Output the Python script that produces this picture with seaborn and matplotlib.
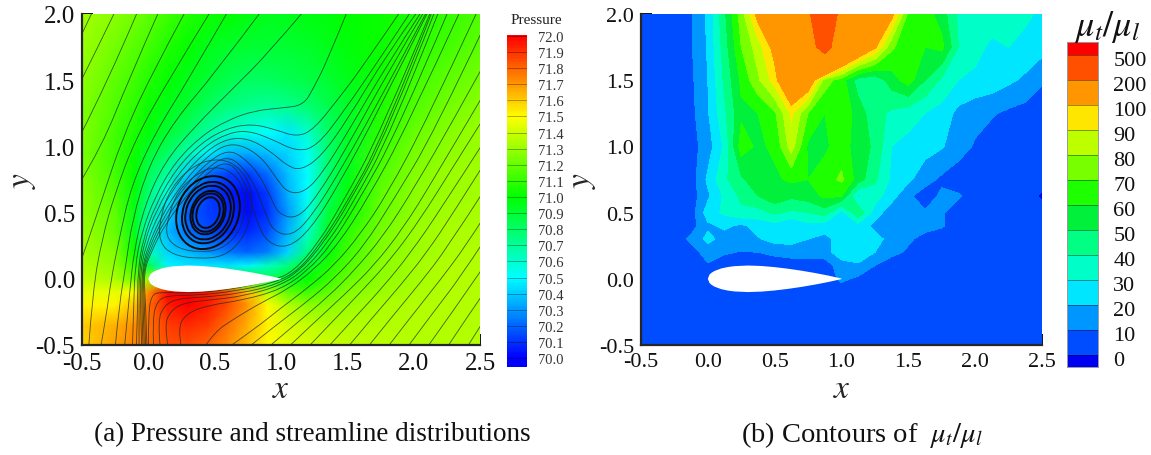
import numpy as np
import matplotlib
matplotlib.use('Agg')
import matplotlib.pyplot as plt
from matplotlib.colors import ListedColormap, BoundaryNorm
from matplotlib.path import Path
from matplotlib.patches import PathPatch
import seaborn as sns

# --- Pressure field ---
p_x = [-0.5, -0.25, -0.1, 0, 0.15, 0.3, 0.45, 0.6, 0.75, 0.9, 1.05, 1.2, 1.35, 1.5, 1.75, 2, 2.25, 2.5]
p_y = [-0.5, -0.35, -0.2, -0.1, 0, 0.1, 0.2, 0.35, 0.5, 0.65, 0.8, 0.95, 1.1, 1.3, 1.5, 1.75, 2.0]
pressure = [
    [71.58, 71.68, 71.74, 71.78, 71.84, 71.85, 71.80, 71.72, 71.62, 71.50, 71.45, 71.42, 71.40, 71.38, 71.36, 71.35, 71.35, 71.35],
    [71.60, 71.65, 71.72, 71.78, 71.88, 71.92, 71.88, 71.78, 71.65, 71.52, 71.42, 71.38, 71.35, 71.35, 71.35, 71.35, 71.35, 71.35],
    [71.52, 71.52, 71.62, 71.78, 71.95, 72.00, 71.95, 71.85, 71.70, 71.50, 71.35, 71.27, 71.27, 71.30, 71.33, 71.35, 71.35, 71.35],
    [71.45, 71.45, 71.50, 71.72, 72.00, 72.00, 71.95, 71.85, 71.62, 71.35, 71.18, 71.12, 71.18, 71.25, 71.30, 71.33, 71.35, 71.35],
    [71.38, 71.33, 71.20, 71.30, 71.20, 71.20, 71.15, 71.05, 70.95, 70.85, 70.92, 71.00, 71.10, 71.20, 71.28, 71.32, 71.35, 71.35],
    [71.35, 71.28, 71.10, 70.85, 70.48, 70.45, 70.45, 70.45, 70.48, 70.62, 70.75, 70.92, 71.05, 71.15, 71.27, 71.32, 71.35, 71.35],
    [71.32, 71.25, 71.00, 70.65, 70.42, 70.36, 70.30, 70.24, 70.20, 70.25, 70.42, 70.75, 70.98, 71.12, 71.25, 71.30, 71.33, 71.35],
    [71.30, 71.20, 70.95, 70.60, 70.36, 70.22, 70.15, 70.10, 70.08, 70.15, 70.35, 70.60, 70.93, 71.08, 71.23, 71.30, 71.33, 71.33],
    [71.28, 71.18, 70.95, 70.70, 70.42, 70.18, 70.12, 70.10, 70.02, 70.10, 70.30, 70.55, 70.88, 71.03, 71.20, 71.28, 71.32, 71.33],
    [71.27, 71.15, 70.98, 70.78, 70.55, 70.25, 70.12, 70.06, 70.02, 70.12, 70.35, 70.50, 70.82, 70.98, 71.18, 71.27, 71.30, 71.32],
    [71.25, 71.13, 71.00, 70.85, 70.68, 70.42, 70.22, 70.14, 70.12, 70.22, 70.38, 70.50, 70.78, 70.95, 71.15, 71.25, 71.30, 71.32],
    [71.24, 71.12, 71.02, 70.90, 70.80, 70.65, 70.48, 70.36, 70.34, 70.38, 70.42, 70.52, 70.78, 70.93, 71.12, 71.23, 71.28, 71.30],
    [71.25, 71.13, 71.05, 70.98, 70.90, 70.80, 70.68, 70.60, 70.55, 70.50, 70.46, 70.60, 70.80, 70.92, 71.08, 71.20, 71.26, 71.30],
    [71.25, 71.15, 71.08, 71.02, 70.95, 70.90, 70.82, 70.76, 70.72, 70.70, 70.72, 70.78, 70.85, 70.92, 71.05, 71.15, 71.22, 71.27],
    [71.28, 71.18, 71.12, 71.07, 71.00, 70.95, 70.90, 70.85, 70.82, 70.82, 70.84, 70.86, 70.90, 70.95, 71.03, 71.12, 71.18, 71.23],
    [71.30, 71.22, 71.17, 71.13, 71.06, 71.00, 70.95, 70.92, 70.90, 70.90, 70.90, 70.92, 70.95, 70.98, 71.02, 71.08, 71.13, 71.18],
    [71.32, 71.27, 71.22, 71.18, 71.12, 71.07, 71.03, 71.00, 70.97, 70.95, 70.95, 70.97, 70.98, 71.00, 71.02, 71.05, 71.10, 71.15],
]

# --- Viscosity ratio ---
mu_x = [-0.5, -0.375, -0.25, -0.125, 0, 0.125, 0.25, 0.375, 0.5, 0.625, 0.75, 0.875, 1, 1.125, 1.25,
        1.375, 1.5, 1.625, 1.75, 1.875, 2, 2.125, 2.25, 2.375, 2.5]
mu_y = [-0.5, -0.1, 0, 0.1, 0.2, 0.3, 0.4, 0.5, 0.625, 0.75, 1.0, 1.25, 1.5, 1.75, 2.0]
mu_ratio = [
    [5] * 25,
    [5] * 25,
    [5, 5, 5, 5, 5, 5, 5, 5, 5, 5, 5, 5, 12, 8, 5, 5, 5, 5, 5, 5, 5, 5, 5, 5, 5],
    [5, 5, 5, 5, 9, 5, 5, 5, 5, 5, 5, 6, 14, 18, 10, 6, 5, 5, 5, 5, 5, 5, 5, 5, 5],
    [5, 5, 5, 6, 14, 11, 9.5, 10, 12, 14, 14, 14, 28, 28, 20, 12, 9, 6, 5, 5, 5, 5, 5, 5, 5],
    [5, 5, 5, 12, 23, 16, 15, 19, 24, 24, 20, 17, 24, 29, 24, 16, 11, 8, 5, 5, 5, 5, 5, 5, 5],
    [5, 5, 5, 6, 18, 22, 18, 24, 26, 20, 27, 25, 27, 26, 17, 14, 11, 12, 11, 5, 5, 5, 5, 5, 5],
    [5, 5, 5, 5, 25, 32, 38, 36, 42, 38, 40, 45, 27, 48, 25, 14, 12, 11, 11, 5, 5, 5, 5, 5, 5],
    [5, 5, 5, 5, 18, 32, 42, 50, 57, 52, 55, 62, 60, 28, 35, 24, 12, 5, 12, 11, 5, 5, 5, 5, -2],
    [5, 5, 5, 5, 22, 38, 48, 57, 58, 62, 60, 65, 72, 55, 42, 28, 22, 14, 8, 5, 5, 5, 5, 5, 5],
    [5, 5, 5, 6, 15, 32, 65, 58, 62, 85, 58, 58, 65, 55, 48, 30, 27, 24, 21, 14, 9, 5, 5, 5, 5],
    [5, 5, 5, 7, 19, 38, 58, 60, 68, 92, 70, 60, 68, 55, 44, 38, 34, 30, 26, 17, 13, 11, 8, 6, 5],
    [5, 5, 5, 8, 20, 42, 62, 78, 95, 125, 115, 75, 65, 45, 42, 55, 65, 50, 38, 30, 28, 26, 22, 18, 11],
    [5, 5, 5, 9, 21, 45, 70, 85, 105, 135, 170, 230, 150, 125, 102, 72, 62, 60, 63, 40, 33, 28, 30, 27, 24],
    [5, 5, 5, 9, 22, 48, 75, 105, 130, 150, 190, 260, 180, 160, 140, 105, 68, 65, 55, 38, 35, 35, 33, 32, 28],
]
mu_levels = [-50, 0, 10, 20, 30, 40, 50, 60, 70, 80, 90, 100, 200, 500, 1000]
mu_colors = ['#0000f0', '#004cff', '#0096ff', '#00e6ff', '#00ffc8', '#00ff82', '#00f03c',
             '#1eff00', '#78ff00', '#beff00', '#ffe600', '#ff9600', '#ff5000', '#ff0000']

# --- Airfoil outline ---
foil_x = [0, 0.0125, 0.025, 0.05, 0.1, 0.15, 0.2, 0.3, 0.4, 0.5, 0.6, 0.7, 0.8, 0.9, 0.95, 1.0]
foil_y = [0, 0.0316, 0.0436, 0.0593, 0.0781, 0.0891, 0.0956, 0.1003, 0.0968, 0.0882, 0.0761, 0.0613, 0.0441, 0.0245, 0.0134, 0.002]

# --- Streamlines, by family ---
left_lines = [
    [(-0.42, 2.02), (-0.5, 1.85)],
    [(-0.25, 2.02), (-0.38, 1.75), (-0.52, 1.47)],
    [(-0.08, 2.02), (-0.3, 1.5), (-0.52, 1.07)],
    [(0.08, 2.02), (-0.15, 1.5), (-0.35, 1.0), (-0.52, 0.72)],
    [(0.28, 2.02), (0, 1.5), (-0.2, 1.05), (-0.35, 0.6), (-0.45, 0.3), (-0.52, 0.1)],
    [(0.47, 2.02), (0.15, 1.5), (-0.1, 1.05), (-0.25, 0.65), (-0.35, 0.3), (-0.42, -0.1), (-0.45, -0.52)],
    [(0.6, 2.02), (0.3, 1.5), (0.05, 1.1), (-0.13, 0.7), (-0.22, 0.3), (-0.28, 0), (-0.32, -0.3), (-0.36, -0.52)],
    [(0.85, 2.02), (0.5, 1.55), (0.2, 1.2), (0, 0.85), (-0.12, 0.45), (-0.17, 0.1), (-0.22, -0.2), (-0.25, -0.52)],
    [(-0.18, -0.52), (-0.14, -0.1), (-0.11, 0.2), (-0.03, 0.55), (0.12, 0.88), (0.35, 1.15), (0.65, 1.45), (0.9, 1.7), (1.17, 2.02)],
    [(-0.12, -0.52), (-0.11, -0.2), (-0.1, 0.1), (-0.05, 0.35), (0.05, 0.62), (0.2, 0.88), (0.4, 1.08), (0.6, 1.2),
     (0.8, 1.27), (1.0, 1.29), (1.17, 1.31), (1.25, 1.45), (1.35, 1.65), (1.5, 2.02)],
]
wake_lines = [
    [(-0.09, -0.52), (-0.08, -0.2), (-0.08, 0.05), (-0.04, 0.3), (0.05, 0.55), (0.2, 0.82), (0.4, 1.03), (0.6, 1.14),
     (0.78, 1.17), (0.95, 1.13), (1.12, 1.07), (1.25, 1.13), (1.44, 1.37), (1.6, 1.58), (1.9, 2.02)],
    [(-0.07, -0.52), (-0.07, -0.2), (-0.07, 0.05), (-0.03, 0.28), (0.06, 0.52), (0.22, 0.79), (0.42, 1.0), (0.6, 1.1),
     (0.75, 1.12), (0.92, 1.06), (1.12, 0.96), (1.27, 1.0), (1.47, 1.26), (1.75, 1.67), (1.98, 2.02)],
    [(-0.05, -0.52), (-0.06, -0.2), (-0.06, 0.05), (-0.02, 0.25), (0.08, 0.5), (0.25, 0.77), (0.44, 0.97), (0.6, 1.06),
     (0.75, 1.06), (0.9, 0.98), (1.05, 0.85), (1.15, 0.82), (1.3, 0.92), (1.5, 1.2), (1.8, 1.7), (2.03, 2.02)],
    [(-0.04, -0.52), (-0.05, -0.2), (-0.05, 0.05), (-0.01, 0.23), (0.1, 0.48), (0.27, 0.74), (0.46, 0.94), (0.6, 1.02),
     (0.73, 1.0), (0.87, 0.9), (0.97, 0.75), (1.05, 0.65), (1.17, 0.65), (1.3, 0.78), (1.5, 1.1), (1.8, 1.62), (2.06, 2.02)],
    [(-0.03, -0.52), (-0.04, -0.2), (-0.045, 0.05), (0, 0.22), (0.11, 0.46), (0.29, 0.72), (0.47, 0.9), (0.6, 0.97),
     (0.7, 0.93), (0.83, 0.8), (0.93, 0.6), (0.98, 0.49), (1.12, 0.45), (1.27, 0.62), (1.49, 0.98), (1.8, 1.55), (2.08, 2.02)],
    [(-0.02, -0.52), (-0.03, -0.2), (-0.04, 0.05), (0.01, 0.21), (0.12, 0.44), (0.31, 0.7), (0.47, 0.86), (0.58, 0.92),
     (0.68, 0.88), (0.8, 0.72), (0.88, 0.5), (0.94, 0.36), (1.08, 0.32), (1.23, 0.47), (1.45, 0.82), (1.78, 1.42), (2.1, 2.02)],
    [(-0.01, -0.52), (-0.02, -0.2), (-0.035, 0.05), (0.02, 0.2), (0.13, 0.42), (0.33, 0.68), (0.48, 0.83), (0.58, 0.88),
     (0.67, 0.83), (0.76, 0.65), (0.82, 0.42), (0.9, 0.27), (1.05, 0.23), (1.22, 0.37), (1.43, 0.7), (1.75, 1.3), (2.11, 2.02)],
]
lower_lines = [
    [(0, -0.52), (0, -0.3), (0.02, -0.12), (0.1, -0.1), (0.3, -0.11), (0.6, -0.085), (0.95, -0.01), (1.1, 0.06),
     (1.28, 0.27), (1.45, 0.55), (1.75, 1.1), (2.13, 2.02)],
    [(0.04, -0.52), (0.03, -0.3), (0.07, -0.16), (0.16, -0.125), (0.35, -0.125), (0.65, -0.095), (0.95, -0.03), (1.13, 0.06),
     (1.3, 0.27), (1.47, 0.53), (1.77, 1.07), (2.14, 2.02)],
    [(0.09, -0.52), (0.07, -0.32), (0.12, -0.2), (0.22, -0.15), (0.4, -0.14), (0.7, -0.11), (0.98, -0.04), (1.15, 0.07),
     (1.32, 0.27), (1.5, 0.55), (1.8, 1.1), (2.16, 2.02)],
    [(0.15, -0.52), (0.12, -0.35), (0.17, -0.24), (0.27, -0.18), (0.47, -0.16), (0.72, -0.13), (1.0, -0.05), (1.18, 0.07),
     (1.35, 0.27), (1.53, 0.55), (1.83, 1.1), (2.19, 2.02)],
    [(0.25, -0.52), (0.22, -0.37), (0.29, -0.26), (0.45, -0.2), (0.72, -0.16), (1.0, -0.08), (1.2, 0.06), (1.38, 0.26),
     (1.58, 0.58), (1.88, 1.12), (2.26, 2.02)],
    [(0.42, -0.52), (0.5, -0.4), (0.65, -0.3), (0.85, -0.18), (1.05, -0.08), (1.25, 0.07), (1.43, 0.26), (1.65, 0.6),
     (1.95, 1.15), (2.35, 2.02)],
    [(0.6, -0.52), (0.8, -0.38), (1.0, -0.22), (1.2, -0.07), (1.4, 0.1), (1.6, 0.34), (1.8, 0.64), (2.1, 1.2), (2.48, 2.02)],
]
right_lines = [
    [(0.75, -0.52), (0.95, -0.36), (1.2, -0.17), (1.4, 0.0), (1.62, 0.24), (1.85, 0.6), (2.15, 1.1), (2.52, 1.88)],
    [(0.9, -0.52), (1.1, -0.35), (1.35, -0.14), (1.55, 0.06), (1.77, 0.32), (2, 0.68), (2.3, 1.2), (2.52, 1.6)],
    [(1.05, -0.52), (1.25, -0.33), (1.5, -0.1), (1.7, 0.1), (1.92, 0.38), (2.15, 0.75), (2.52, 1.38)],
    [(1.2, -0.52), (1.4, -0.31), (1.62, -0.08), (1.83, 0.15), (2.05, 0.45), (2.3, 0.85), (2.52, 1.2)],
    [(1.35, -0.52), (1.55, -0.3), (1.77, -0.06), (1.98, 0.2), (2.2, 0.52), (2.52, 1.02)],
    [(1.5, -0.52), (1.7, -0.28), (1.9, -0.05), (2.1, 0.2), (2.3, 0.5), (2.52, 0.85)],
    [(1.65, -0.52), (1.85, -0.27), (2.05, -0.03), (2.25, 0.23), (2.52, 0.65)],
    [(1.8, -0.52), (2.0, -0.26), (2.2, -0.01), (2.4, 0.26), (2.52, 0.45)],
    [(1.95, -0.52), (2.15, -0.25), (2.35, 0.01), (2.52, 0.27)],
    [(2.1, -0.52), (2.3, -0.24), (2.52, 0.08)],
    [(2.25, -0.52), (2.45, -0.22), (2.52, -0.12)],
    [(2.4, -0.52), (2.52, -0.33)],
]
vortex_loops = [
    [(0.54, 0.5), (0.537, 0.56), (0.511, 0.604), (0.468, 0.62), (0.421, 0.604), (0.381, 0.56), (0.36, 0.5), (0.363, 0.44),
     (0.389, 0.396), (0.432, 0.38), (0.479, 0.396), (0.519, 0.44)],
    [(0.57, 0.5), (0.565, 0.575), (0.53, 0.63), (0.472, 0.65), (0.41, 0.63), (0.357, 0.575), (0.33, 0.5), (0.335, 0.425),
     (0.37, 0.37), (0.428, 0.35), (0.49, 0.37), (0.543, 0.425)],
    [(0.585, 0.5), (0.58, 0.585), (0.54, 0.648), (0.476, 0.67), (0.404, 0.648), (0.346, 0.585), (0.315, 0.5), (0.32, 0.415),
     (0.36, 0.352), (0.424, 0.33), (0.496, 0.352), (0.554, 0.415)],
    [(0.625, 0.5), (0.618, 0.605), (0.565, 0.683), (0.482, 0.71), (0.389, 0.683), (0.314, 0.605), (0.275, 0.5), (0.282, 0.395),
     (0.335, 0.317), (0.418, 0.29), (0.511, 0.317), (0.586, 0.395)],
    [(0.65, 0.5), (0.642, 0.62), (0.581, 0.709), (0.486, 0.74), (0.381, 0.709), (0.294, 0.62), (0.25, 0.5), (0.258, 0.38),
     (0.319, 0.291), (0.414, 0.26), (0.519, 0.291), (0.606, 0.38)],
    [(0.695, 0.5), (0.684, 0.643), (0.61, 0.748), (0.493, 0.785), (0.364, 0.748), (0.258, 0.643), (0.205, 0.5), (0.216, 0.357),
     (0.29, 0.252), (0.407, 0.215), (0.536, 0.252), (0.642, 0.357)],
]
outer_loops = [
    [(0.73, 0.5), (0.73, 0.67), (0.63, 0.81), (0.5, 0.85), (0.36, 0.79), (0.22, 0.66), (0.15, 0.47), (0.13, 0.32),
     (0.22, 0.23), (0.38, 0.2), (0.55, 0.22), (0.68, 0.34)],
    [(0.78, 0.5), (0.78, 0.7), (0.66, 0.87), (0.5, 0.91), (0.33, 0.85), (0.17, 0.69), (0.09, 0.47), (0.08, 0.28),
     (0.18, 0.18), (0.38, 0.15), (0.58, 0.17), (0.72, 0.31)],
]

# --- Tick labels ---
x_ticks = [-0.5, 0, 0.5, 1, 1.5, 2, 2.5]
x_labels = ['-0.5', '0.0', '0.5', '1.0', '1.5', '2.0', '2.5']
y_ticks = [-0.5, 0, 0.5, 1, 1.5, 2]
y_labels = ['-0.5', '0.0', '0.5', '1.0', '1.5', '2.0']
p_bar_labels = ['72.0', '71.9', '71.8', '71.7', '71.6', '71.5', '71.4', '71.3', '71.2', '71.1', '71.0',
                '70.9', '70.8', '70.7', '70.6', '70.5', '70.4', '70.3', '70.2', '70.1', '70.0']
mu_bar_labels = ['500', '200', '100', '90', '80', '70', '60', '50', '40', '30', '20', '10', '0']

sns.set_theme(style='ticks')
plt.rcParams['font.family'] = ['Liberation Serif', 'DejaVu Serif']
plt.rcParams['mathtext.fontset'] = 'stix'
plt.rcParams['axes.unicode_minus'] = False

W, H = 1151, 456


def px_axes(fig, x0, y0, x1, y1):
    # axes box given in pixels from the top left corner
    return fig.add_axes([x0 / W, 1 - y1 / H, (x1 - x0) / W, (y1 - y0) / H])


def style_panel(ax, size, ylabel_x):
    ax.set_xlim(-0.5, 2.5)
    ax.set_ylim(-0.5, 2.0)
    ax.set_xticks(x_ticks, x_labels)
    ax.set_yticks(y_ticks, y_labels)
    ax.set_xticks(np.arange(-0.5, 2.51, 0.1), minor=True)
    ax.set_yticks(np.arange(-0.5, 2.01, 0.1), minor=True)
    ax.tick_params(which='major', direction='in', length=8, width=1.3, color='black', labelsize=size, pad=5, labelcolor='#111111')
    ax.tick_params(which='minor', direction='in', length=3.5, width=0.7, color='black')
    sns.despine(ax=ax)
    ax.spines['left'].set_linewidth(1.6)
    ax.spines['bottom'].set_linewidth(1.6)
    ax.spines['left'].set_zorder(10)
    ax.spines['bottom'].set_zorder(10)
    ax.set_xlabel('$x$', fontsize=24)
    ax.set_ylabel('$y$', fontsize=24)
    ax.xaxis.set_label_coords(0.5, -0.085)
    ax.yaxis.set_label_coords(ylabel_x, 0.5)


def stream_path(line, closed=False):
    # quadratic curve segments with the read points as control points
    pts = np.array(line, dtype=float)
    if closed:
        verts = [(pts[-1] + pts[0]) / 2]
        for a, b in zip(pts, np.roll(pts, -1, axis=0)):
            verts += [a, (a + b) / 2]
    else:
        verts = [pts[0]]
        for a, b in zip(pts[1:-2], pts[2:-1]):
            verts += [a, (a + b) / 2]
        verts += [pts[-2], pts[-1]] if len(pts) > 2 else [pts[-1]]
    codes = [Path.MOVETO] + [Path.CURVE3] * (len(verts) - 1) if len(pts) > 2 else [Path.MOVETO, Path.LINETO]
    return Path(verts, codes)


fig = plt.figure(figsize=(W / 100, H / 100), dpi=100)
rainbow = sns.blend_palette(['#0000ff', '#00ffff', '#00ff00', '#ffff00', '#ff0000'], n_colors=256, as_cmap=True)

# --- (a) pressure and streamlines ---
ax1 = px_axes(fig, 82, 15, 480, 346)
ax1.pcolormesh(p_x, p_y, np.array(pressure), shading='gouraud', cmap=rainbow, vmin=70, vmax=72, zorder=1)
for line in left_lines + wake_lines + lower_lines + right_lines:
    ax1.add_patch(PathPatch(stream_path(line), fill=False, edgecolor='#1a2a1a', lw=0.6, alpha=0.75, zorder=3))
for line in outer_loops:
    ax1.add_patch(PathPatch(stream_path(line, closed=True), fill=False, edgecolor='#1a2a1a', lw=0.6, alpha=0.75, zorder=3))
for line in vortex_loops:
    ax1.add_patch(PathPatch(stream_path(line, closed=True), fill=False, edgecolor='#0a0a0a', lw=1.4, zorder=3))
ax1.fill(foil_x + foil_x[::-1], foil_y + [-v for v in foil_y[::-1]], color='white', zorder=4, lw=0)
style_panel(ax1, 18, -0.11)

# --- (b) viscosity ratio contours ---
ax2 = px_axes(fig, 641, 15, 1042, 346)
ax2.contourf(mu_x, mu_y, np.array(mu_ratio), levels=mu_levels, colors=mu_colors, zorder=1)
ax2.fill(foil_x + foil_x[::-1], foil_y + [-v for v in foil_y[::-1]], color='white', zorder=4, lw=0)
style_panel(ax2, 16, -0.107)

# --- colour bars, drawn as one column heatmaps ---
cax1 = px_axes(fig, 507, 36, 527, 368)
p_bar = np.arange(7200, 6994, -1).reshape(-1, 1) / 100
sns.heatmap(p_bar, ax=cax1, cmap=rainbow, vmin=70, vmax=72, cbar=False, xticklabels=False, yticklabels=False)
p_rows = np.arange(len(p_bar_labels)) * 10 + 0.5
cax1.hlines(p_rows, 0, 1, color='black', lw=0.5, alpha=0.45)
cax1.yaxis.tick_right()
cax1.set_yticks(p_rows, p_bar_labels)
cax1.tick_params(axis='y', length=0, labelsize=10.5, labelcolor='#333333', pad=8, labelrotation=0)
fig.text(536 / W, 1 - 20 / H, 'Pressure', fontsize=11, ha='center', va='center', color='#222222')

cax2 = px_axes(fig, 1067, 43, 1098, 368)
band_sizes = [1] + [2] * 12 + [1]
bands = np.repeat(np.arange(13, -1, -1), band_sizes).reshape(-1, 1)
sns.heatmap(bands, ax=cax2, cmap=ListedColormap(mu_colors), norm=BoundaryNorm(np.arange(-0.5, 14.5), 14), cbar=False,
            xticklabels=False, yticklabels=False)
mu_rows = np.arange(1, 26, 2)
cax2.hlines(mu_rows, 0, 1, color='black', lw=0.7, alpha=0.4)
cax2.yaxis.tick_right()
cax2.set_yticks(mu_rows + 0.32, mu_bar_labels)
cax2.tick_params(axis='y', length=0, labelsize=16, labelcolor='#111111', pad=11, labelrotation=0)
for side in cax2.spines.values():
    side.set_visible(True)
    side.set_color('#999999')
    side.set_linewidth(0.7)
fig.text(1107 / W, 1 - 27 / H, r'$\mu_t/\mu_l$', fontsize=26, ha='center', va='center', color='#111111')

# --- captions ---
fig.text(312 / W, 1 - 435 / H, '(a) Pressure and streamline distributions', fontsize=19.5, ha='center', va='center', color='#111111')
fig.text(862 / W, 1 - 435 / H, r'(b) Contours of  $\mu_t/\mu_l$', fontsize=20.5, ha='center', va='center', color='#111111')

fig.savefig('out.png', dpi=100)
